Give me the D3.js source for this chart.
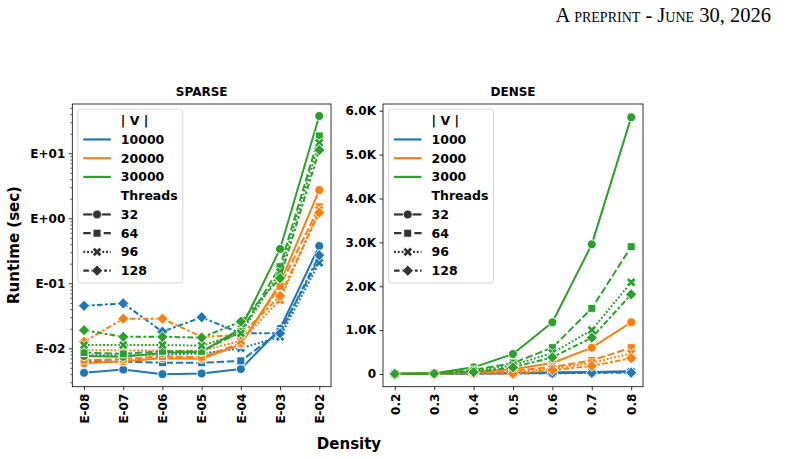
<!DOCTYPE html>
<html><head><meta charset="utf-8">
<script src="https://cdn.jsdelivr.net/npm/d3@7"></script>
<style>body{margin:0;background:#fff}svg{display:block}</style>
</head><body><svg id="c" width="798" height="459"></svg>
<script>
// ---------- data ----------
const sparseX = ["E-08","E-07","E-06","E-05","E-04","E-03","E-02"];
const denseX = ["0.2","0.3","0.4","0.5","0.6","0.7","0.8"];
const threads = ["32","64","96","128"];
const sparseV = ["10000","20000","30000"];
const denseV = ["1000","2000","3000"];
const sparseYTicks = ["E-02","E-01","E+00","E+01"];
const denseYTicks = ["0","1.0K","2.0K","3.0K","4.0K","5.0K","6.0K"];
// rows: threads 32, 64, 96, 128
const sparse10000 = [
  [0.0042,0.0047,0.0040,0.0041,0.0048,0.020,0.375],
  [0.0064,0.0062,0.0060,0.0060,0.0064,0.018,0.24],
  [0.0078,0.0078,0.0080,0.0083,0.0100,0.015,0.207],
  [0.045,0.049,0.018,0.030,0.017,0.017,0.27]];
const sparse20000 = [
  [0.0059,0.0063,0.0070,0.0069,0.0115,0.10,2.72],
  [0.0066,0.0068,0.0075,0.0073,0.0120,0.09,1.5],
  [0.0093,0.0093,0.0092,0.0092,0.0130,0.055,1.35],
  [0.0126,0.0285,0.0285,0.0150,0.0160,0.064,1.22]];
const sparse30000 = [
  [0.0076,0.0074,0.0085,0.0088,0.020,0.337,37.5],
  [0.0086,0.0082,0.0090,0.0090,0.018,0.18,18.5],
  [0.0112,0.0112,0.0112,0.0110,0.017,0.15,14.5],
  [0.019,0.015,0.015,0.0146,0.0257,0.12,11.2]];
const dense1000 = [
  [2,5,15,25,35,45,65],
  [2,4,12,20,28,40,55],
  [2,4,10,15,22,35,50],
  [1,3,8,12,18,25,30]];
const dense2000 = [
  [3,10,50,110,250,600,1180],
  [3,8,35,70,160,310,600],
  [2,6,25,40,120,255,470],
  [2,5,20,5,90,185,360]];
const dense3000 = [
  [5,20,152,455,1178,2955,5849],
  [4,15,90,250,600,1497,2900],
  [4,12,65,200,480,1002,2089],
  [3,10,41,152,380,828,1815]];

// ---------- style ----------
const colors = ["#1f77b4","#ff7f0e","#2ca02c"];
const dashes = ["", "7.4,2.8", "1.9,1.9", "5.6,2.3,2.8,2.3"];
const FONT = "DejaVu Sans, Verdana, sans-serif";
const svg = d3.select("#c");
const plotTop = 104, plotBottom = 386.7;

function xPath(h){
  const w = h*0.34, pts = [[-w,-h],[w,-h],[w,-w],[h,-w],[h,w],[w,w],[w,h],[-w,h],[-w,w],[-h,w],[-h,-w],[-w,-w]];
  const c = Math.SQRT1_2;
  return "M" + pts.map(([x,y]) => [(x-y)*c,(x+y)*c].map(v=>v.toFixed(2)).join(",")).join("L") + "Z";
}
function drawMarker(g, ti, x, y, color){
  const common = s => s.attr("fill", color).attr("stroke", "#fff").attr("stroke-width", 0.9);
  if (ti === 0) common(g.append("circle").attr("cx", x).attr("cy", y).attr("r", 4.5));
  else if (ti === 1) common(g.append("rect").attr("x", x-4).attr("y", y-4).attr("width", 8).attr("height", 8));
  else if (ti === 2) common(g.append("path").attr("d", xPath(5)).attr("transform", `translate(${x},${y})`));
  else common(g.append("path").attr("d", "M0,-5.6L5.6,0L0,5.6L-5.6,0Z").attr("transform", `translate(${x},${y})`));
}

function panel(opts){
  const {sx0, sx1, cats, yScale, series, title, log, yTickVals, yTickLabels, vLabels} = opts;
  const x = d3.scalePoint().domain(cats).range([sx0, sx1]).padding(0.3);
  const g = svg.append("g");
  series.forEach((rows, vi) => {
    rows.forEach((vals, ti) => {
      const line = d3.line().x((d,i) => x(cats[i])).y(d => yScale(d));
      g.append("path").attr("d", line(vals)).attr("fill","none")
        .attr("stroke", colors[vi]).attr("stroke-width", 2)
        .attr("stroke-dasharray", dashes[ti]).attr("stroke-linejoin","round");
      vals.forEach((d,i) => drawMarker(g, ti, x(cats[i]), yScale(d), colors[vi]));
    });
  });
  const xa = g.append("g").attr("transform", `translate(0,${plotBottom})`)
    .call(d3.axisBottom(x).tickSize(3.5).tickPadding(3.5));
  xa.select(".domain").remove();
  xa.selectAll("line").attr("stroke","#000").attr("stroke-width",0.8);
  xa.selectAll("text").attr("font-family",FONT).attr("font-weight","bold").attr("font-size",12).attr("fill","#000")
    .attr("transform","rotate(-90)").attr("text-anchor","end").attr("x",-7).attr("dy","0.35em").attr("y",0);
  if (log){
    const minor = [];
    const d = yScale.domain();
    for (let e=-3; e<=1; e++) for (let m=2; m<=9; m++){ const v=m*Math.pow(10,e); if (v>=d[0]&&v<=d[1]) minor.push(v); }
    const ym = g.append("g").attr("transform",`translate(${sx0},0)`)
      .call(d3.axisLeft(yScale).tickValues(minor).tickSize(2).tickFormat(""));
    ym.select(".domain").remove();
    ym.selectAll("line").attr("stroke","#000").attr("stroke-width",0.6);
  }
  const ya = g.append("g").attr("transform",`translate(${sx0},0)`)
    .call(d3.axisLeft(yScale).tickValues(yTickVals).tickSize(3.5).tickPadding(3.5).tickFormat((d,i)=>yTickLabels[i]));
  ya.select(".domain").remove();
  ya.selectAll("line").attr("stroke","#000").attr("stroke-width",0.8);
  ya.selectAll("text").attr("font-family",FONT).attr("font-weight","bold").attr("font-size",12).attr("fill","#000");
  g.append("rect").attr("x",sx0).attr("y",plotTop).attr("width",sx1-sx0).attr("height",plotBottom-plotTop)
    .attr("fill","none").attr("stroke","#000").attr("stroke-width",0.8);
  g.append("text").attr("x",(sx0+sx1)/2).attr("y",96).attr("text-anchor","middle")
    .attr("font-family",FONT).attr("font-weight","bold").attr("font-size",12).text(title);
  const lx = sx0 + 5.5, ly = 109;
  const lg = g.append("g");
  lg.append("rect").attr("x",lx).attr("y",ly).attr("width",105).attr("height",174).attr("rx",3)
    .attr("fill","#fff").attr("fill-opacity",0.85).attr("stroke","#cccccc").attr("stroke-width",0.8);
  const entries = [{label:"| V |"}]
    .concat(vLabels.map((l,i)=>({label:l, color:colors[i]})))
    .concat([{label:"Threads"}])
    .concat(threads.map((l,i)=>({label:l, ti:i})));
  const hx0 = lx + 5.5, hx1 = lx + 33, tx = lx + 43;
  entries.forEach((e,k) => {
    const cy = 120.7 + k*18.75;
    lg.append("text").attr("x",tx).attr("y",cy).attr("dy","0.36em").attr("font-family",FONT)
      .attr("font-weight","bold").attr("font-size",12.5).text(e.label);
    if (e.color){
      lg.append("line").attr("x1",hx0).attr("x2",hx1).attr("y1",cy).attr("y2",cy).attr("stroke",e.color).attr("stroke-width",2.2);
    } else if (e.ti !== undefined){
      lg.append("line").attr("x1",hx0).attr("x2",hx1).attr("y1",cy).attr("y2",cy).attr("stroke","#333")
        .attr("stroke-width",2.2).attr("stroke-dasharray",dashes[e.ti]);
      drawMarker(lg, e.ti, (hx0+hx1)/2, cy, "#333");
    }
  });
}

const ySparse = d3.scaleLog().domain([Math.pow(10,-2.591), Math.pow(10,1.758)]).range([plotBottom, plotTop]);
const yDense = d3.scaleLinear().domain([-289, 6153]).range([plotBottom, plotTop]);

panel({sx0:72.3, sx1:331, cats:sparseX, yScale:ySparse, log:true,
  series:[sparse10000, sparse20000, sparse30000], title:"SPARSE",
  yTickVals:[0.01,0.1,1,10], yTickLabels:sparseYTicks, vLabels:sparseV});
panel({sx0:383, sx1:643, cats:denseX, yScale:yDense, log:false,
  series:[dense1000, dense2000, dense3000], title:"DENSE",
  yTickVals:[0,1000,2000,3000,4000,5000,6000], yTickLabels:denseYTicks, vLabels:denseV});

svg.append("text").attr("x",349).attr("y",449).attr("text-anchor","middle").attr("font-family",FONT)
  .attr("font-weight","bold").attr("font-size",15).text("Density");
svg.append("text").attr("transform","translate(19,245) rotate(-90)").attr("text-anchor","middle").attr("font-family",FONT)
  .attr("font-weight","bold").attr("font-size",15).text("Runtime (sec)");
svg.append("text").attr("x",771).attr("y",21.5).attr("text-anchor","end")
  .attr("font-family","Liberation Serif, Times New Roman, serif").attr("font-size",20.5)
  .style("font-variant","small-caps").text("A preprint - June 30, 2026");
</script></body></html>
